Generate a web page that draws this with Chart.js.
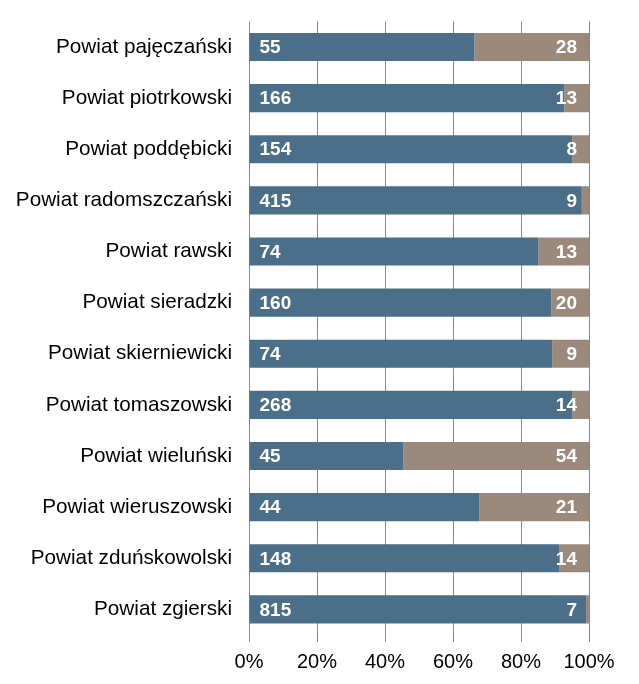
<!DOCTYPE html>
<html>
<head>
<meta charset="utf-8">
<script src="https://cdn.jsdelivr.net/npm/chart.js@4/dist/chart.umd.min.js"></script>
<style>
  html, body { margin: 0; padding: 0; background: #fff; }
  #wrap { width: 639px; height: 684px; }
</style>
</head>
<body>
<div id="wrap"><canvas id="myChart" width="639" height="684"></canvas></div>
<script>
const categories = [
  'Powiat pajęczański',
  'Powiat piotrkowski',
  'Powiat poddębicki',
  'Powiat radomszczański',
  'Powiat rawski',
  'Powiat sieradzki',
  'Powiat skierniewicki',
  'Powiat tomaszowski',
  'Powiat wieluński',
  'Powiat wieruszowski',
  'Powiat zduńskowolski',
  'Powiat zgierski',
];
const blueCounts = [55, 166, 154, 415, 74, 160, 74, 268, 45, 44, 148, 815];
const grayCounts = [28, 13, 8, 9, 13, 20, 9, 14, 54, 21, 14, 7];
const tickLabels = ['0%', '20%', '40%', '60%', '80%', '100%'];

const bluePct = blueCounts.map((v, i) => (v / (v + grayCounts[i])) * 100);
const grayPct = grayCounts.map((v, i) => (v / (blueCounts[i] + v)) * 100);

// draws the raw counts on top of the bars
const countLabels = {
  id: 'countLabels',
  afterDatasetsDraw(chart) {
    const ctx = chart.ctx;
    ctx.save();
    ctx.font = 'bold 19px "Liberation Sans", Arial, sans-serif';
    ctx.fillStyle = '#ffffff';
    ctx.textBaseline = 'middle';
    chart.getDatasetMeta(0).data.forEach((bar, i) => {
      ctx.textAlign = 'left';
      ctx.fillText(String(blueCounts[i]), bar.base + 10, bar.y + 1);
    });
    chart.getDatasetMeta(1).data.forEach((bar, i) => {
      ctx.textAlign = 'right';
      ctx.fillText(String(grayCounts[i]), bar.x - 12, bar.y + 1);
    });
    ctx.restore();
  },
};

const ctx = document.getElementById('myChart').getContext('2d');
const myChart = new Chart(ctx, {
  type: 'bar',
  data: {
    labels: categories,
    datasets: [
      {
        data: bluePct,
        backgroundColor: '#4b6e89',
        barPercentage: 0.55,
        categoryPercentage: 1,
      },
      {
        data: grayPct,
        backgroundColor: '#9b8a7b',
        barPercentage: 0.55,
        categoryPercentage: 1,
      },
    ],
  },
  options: {
    indexAxis: 'y',
    responsive: false,
    animation: false,
    layout: { padding: { top: 17, right: 50, left: 0, bottom: 0 } },
    plugins: {
      legend: { display: false },
      tooltip: { enabled: false },
    },
    scales: {
      x: {
        stacked: true,
        min: 0,
        max: 100,
        afterFit(scale) {
          scale.height = 49;
        },
        grid: {
          color: '#868686',
          lineWidth: 1,
          drawTicks: true,
          tickLength: 7,
        },
        border: { display: false },
        ticks: {
          stepSize: 20,
          color: '#000000',
          padding: 8,
          font: { size: 20, family: '"Liberation Sans", Arial, sans-serif' },
          callback: (v, idx) => tickLabels[idx],
        },
      },
      y: {
        stacked: true,
        afterFit(scale) {
          scale.width = 249;
        },
        grid: { display: false },
        border: { display: false },
        ticks: {
          color: '#000000',
          padding: 9,
          font: { size: 20.7, family: '"Liberation Sans", Arial, sans-serif' },
        },
      },
    },
  },
  plugins: [countLabels],
});
</script>
</body>
</html>
